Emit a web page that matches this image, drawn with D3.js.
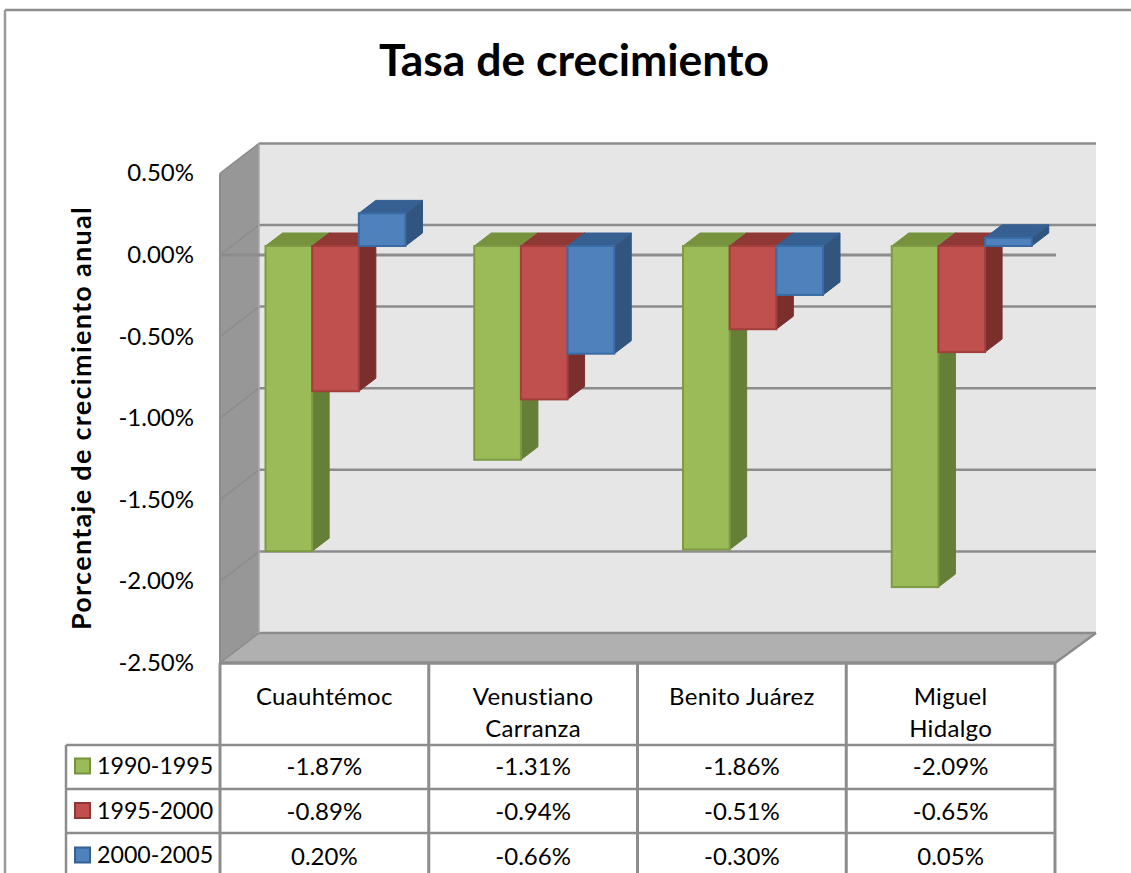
<!DOCTYPE html>
<html><head><meta charset="utf-8">
<script src="https://cdnjs.cloudflare.com/ajax/libs/d3/7.8.5/d3.min.js"></script>
<style>html,body{margin:0;padding:0;background:#fff}svg{display:block}text{font-family:Lato,Carlito,sans-serif;fill:#000}</style>
</head><body><svg id="c" width="1131" height="873"></svg>
<script>
const categories=["Cuauhtémoc","Venustiano Carranza","Benito Juárez","Miguel Hidalgo"];
const categoryLines=[["Cuauhtémoc"],["Venustiano","Carranza"],["Benito Juárez"],["Miguel","Hidalgo"]];
const seriesNames=["1990-1995","1995-2000","2000-2005"];
const values1990=[-1.87,-1.31,-1.86,-2.09];
const values1995=[-0.89,-0.94,-0.51,-0.65];
const values2000=[0.20,-0.66,-0.30,0.05];
const yTicks=[0.5,0,-0.5,-1,-1.5,-2,-2.5];
const faces=[{f:"#9bbb59",e:"#7d9a44",t:"#76923c",s:"#667f36"},{f:"#c0504d",e:"#a23f3c",t:"#8f3836",s:"#7b2f2d"},{f:"#4f81bd",e:"#3a6ba3",t:"#376092",s:"#31557f"}];
const series=[values1990,values1995,values2000];

const svg=d3.select("#c");
const grey="#8c8c8c";
const L=220,R=1055,DX=39,DY=-30;
const y=d3.scaleLinear().domain([-2.5,0.5]).range([663,173.4]);
const x=d3.scaleBand().domain(categories).range([L,R]);
const xs=d3.scaleBand().domain(d3.range(3)).range([45,185]);
const pct=v=>d3.format(".2f")(v).replace("\u2212","-")+"%";
const poly=(pts,fill,stroke,w)=>svg.append("polygon").attr("points",pts.map(p=>p.join(",")).join(" ")).attr("fill",fill).attr("stroke",stroke||"none").attr("stroke-width",w||0);
const line=(a,b,c,d,col,w)=>svg.append("line").attr("x1",a).attr("y1",b).attr("x2",c).attr("y2",d).attr("stroke",col||grey).attr("stroke-width",w||2);

// chart frame
line(5,10,1131,10,"#8e8e8e",2.5);
line(5,10,5,873,"#9a9a9a",2.5);

// title
svg.append("text").attr("x",574).attr("y",76).attr("text-anchor","middle").attr("font-size",44.5).attr("font-weight",700).text("Tasa de crecimiento");

// walls
const [y0,yTop,yBot]=[y(0),y(0.5),y(-2.5)];
poly([[L+DX,yTop+DY],[R+DX+2,yTop+DY],[R+DX+2,yBot+DY],[L+DX,yBot+DY]],"#e6e6e6");
poly([[L,yTop],[L+DX,yTop+DY],[L+DX,yBot+DY],[L,yBot]],"#979797");
poly([[L,yBot],[L+DX,yBot+DY],[R+DX+2,yBot+DY],[R,yBot]],"#b0b0b0");
// gridlines
yTicks.forEach(t=>{
  line(L+DX,y(t)+DY,R+DX+2,y(t)+DY,grey,2.5);
  line(L,y(t),L+DX,y(t)+DY,grey,1.5);
});
line(L,yTop,L,yBot,grey,2);
line(L+DX,yTop+DY,L+DX,yBot+DY,"#a8a8a8",1.5);
line(R,yBot,R+DX+2,yBot+DY,grey,2.5);
// zero axis at the front plane
line(L,y0,R+1,y0,grey,3);

// bars
const OX=0.5,OY=-9,BX=17,BY=-13;
categories.forEach((c,i)=>{
  series.forEach((vals,k)=>{
    const v=vals[i],st=faces[k];
    const x0=x(c)+xs(k)+OX,x1=x0+xs.bandwidth();
    const a=y(Math.max(v,0))+OY,b=y(Math.min(v,0))+OY;
    poly([[x1,a],[x1+BX,a+BY],[x1+BX,b+BY],[x1,b]],st.s,st.s,1);
    poly([[x0,a],[x0+BX,a+BY],[x1+BX,a+BY],[x1,a]],st.t,st.t,1);
    svg.append("rect").attr("x",x0).attr("y",a).attr("width",x1-x0).attr("height",b-a).attr("fill",st.f).attr("stroke",st.e).attr("stroke-width",2);
  });
});

// y ticks
yTicks.forEach(t=>svg.append("text").attr("x",194).attr("y",y(t)+8).attr("text-anchor","end").attr("font-size",24).text(pct(t)));
svg.append("text").attr("transform","translate(91,418) rotate(-90)").attr("text-anchor","middle").attr("font-size",27).attr("letter-spacing",1.3).attr("font-weight",700).text("Porcentaje de crecimiento anual");

// data table
const rowY=[745,789,833];
d3.range(5).forEach(i=>line(L+i*(R-L)/4,663,L+i*(R-L)/4,873,grey,3));
line(L,663,R,663,grey,3.5);
rowY.forEach(ry=>line(66,ry,R,ry,grey,2.5));
line(66,745,66,873,grey,2.5);
categories.forEach((c,i)=>{
  const cx=x(c)+x.bandwidth()/2;
  const ls=categoryLines[i];
  ls.forEach((t,j)=>svg.append("text").attr("x",cx).attr("y",705+j*32).attr("text-anchor","middle").attr("font-size",24).attr("letter-spacing",0.3).text(t));
  series.forEach((vals,k)=>svg.append("text").attr("x",cx).attr("y",775+k*45).attr("text-anchor","middle").attr("font-size",24).text(pct(vals[i])));
});
seriesNames.forEach((s,k)=>{
  const st=faces[k];
  svg.append("rect").attr("x",75).attr("y",758.5+k*44.5).attr("width",15).attr("height",15).attr("fill",st.f).attr("stroke",st.t).attr("stroke-width",2);
  svg.append("text").attr("x",97).attr("y",774+k*44.5).attr("font-size",23.2).text(s);
});
</script></body></html>
